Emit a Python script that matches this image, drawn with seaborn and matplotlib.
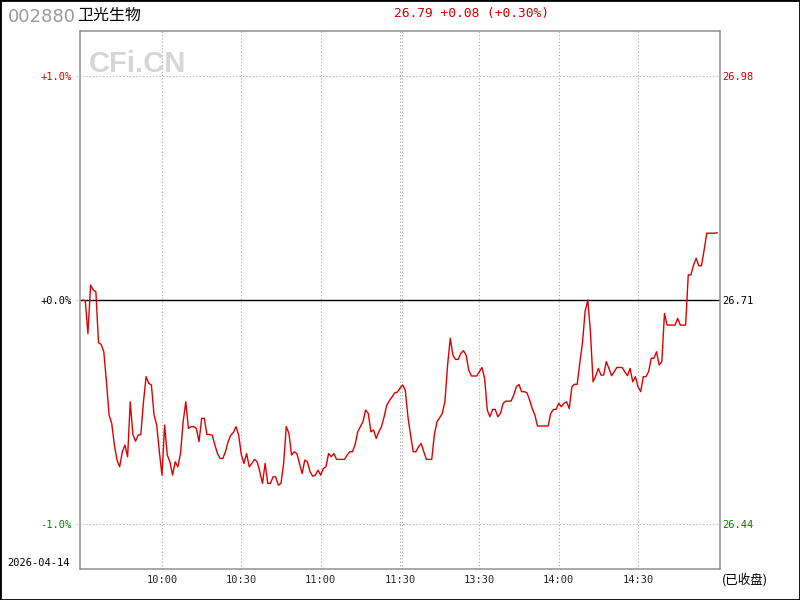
"""分时走势图 — 002880 卫光生物 (2026-04-14)."""

import matplotlib

matplotlib.use("Agg")

import matplotlib.pyplot as plt
import matplotlib.transforms as mtransforms
from matplotlib.patches import Rectangle
import numpy as np
import seaborn as sns

# ---- データ ----
stock_code = "002880"
stock_name = "卫光生物"
quote_text = "26.79 +0.08 (+0.30%)"
trade_date = "2026-04-14"
status_text = "(已收盘)"
prev_close = 26.71

# 分钟涨跌幅 (%), 9:30..11:30 + 13:01..15:00
pct_change = [
    0.000, -0.004, -0.150, 0.067, 0.045, 0.037, -0.190, -0.198, -0.231, -0.365,
    -0.513, -0.551, -0.647, -0.714, -0.744, -0.677, -0.647, -0.700, -0.454, -0.600,
    -0.630, -0.603, -0.600, -0.454, -0.342, -0.372, -0.379, -0.513, -0.558, -0.677,
    -0.781, -0.558, -0.692, -0.722, -0.781, -0.722, -0.744, -0.685, -0.543, -0.454,
    -0.573, -0.565, -0.565, -0.573, -0.632, -0.528, -0.528, -0.600, -0.600, -0.603,
    -0.647, -0.685, -0.707, -0.707, -0.677, -0.632, -0.603, -0.591, -0.565, -0.603,
    -0.690, -0.729, -0.685, -0.744, -0.729, -0.711, -0.722, -0.766, -0.818, -0.729,
    -0.818, -0.818, -0.789, -0.789, -0.826, -0.818, -0.729, -0.565, -0.595, -0.692,
    -0.677, -0.685, -0.729, -0.774, -0.714, -0.722, -0.766, -0.786, -0.781, -0.759,
    -0.781, -0.752, -0.744, -0.685, -0.699, -0.685, -0.711, -0.711, -0.711, -0.711,
    -0.692, -0.677, -0.677, -0.647, -0.588, -0.565, -0.543, -0.491, -0.506, -0.588,
    -0.580, -0.618, -0.588, -0.565, -0.521, -0.469, -0.449, -0.432, -0.414, -0.411,
    -0.394, -0.379, -0.402, -0.521, -0.603, -0.677, -0.677, -0.655, -0.640, -0.677,
    -0.711, -0.711, -0.711, -0.600, -0.543, -0.525, -0.506, -0.451, -0.290, -0.171,
    -0.246, -0.265, -0.265, -0.238, -0.226, -0.246, -0.313, -0.339, -0.339, -0.339,
    -0.320, -0.301, -0.350, -0.491, -0.521, -0.488, -0.488, -0.521, -0.506, -0.461,
    -0.451, -0.451, -0.451, -0.424, -0.387, -0.377, -0.409, -0.409, -0.414, -0.446,
    -0.484, -0.513, -0.562, -0.562, -0.562, -0.562, -0.562, -0.506, -0.488, -0.488,
    -0.461, -0.476, -0.461, -0.454, -0.484, -0.387, -0.376, -0.376, -0.280, -0.190,
    -0.050, 0.000, -0.141, -0.365, -0.339, -0.305, -0.335, -0.335, -0.275, -0.305,
    -0.338, -0.320, -0.301, -0.301, -0.301, -0.320, -0.338, -0.305, -0.365, -0.342,
    -0.387, -0.409, -0.342, -0.342, -0.320, -0.260, -0.260, -0.231, -0.290, -0.275,
    -0.060, -0.112, -0.112, -0.112, -0.112, -0.082, -0.112, -0.112, -0.112, 0.112,
    0.112, 0.156, 0.186, 0.153, 0.153, 0.223, 0.298, 0.298, 0.298, 0.298,
    0.300,
]

time_ticks = [30, 60, 90, 120, 150, 180, 210]
time_labels = ["10:00", "10:30", "11:00", "11:30", "13:30", "14:00", "14:30"]
pct_ticks = [1.0, 0.0, -1.0]
pct_labels = ["+1.0%", "+0.0%", "-1.0%"]
price_labels = ["26.98", "26.71", "26.44"]

# ---- スタイル ----
sns.set_style("white")
plt.rcParams["font.family"] = ["DejaVu Sans", "Noto Sans CJK SC"]
mono = "DejaVu Sans Mono"
cjk = ["Noto Sans CJK SC", "DejaVu Sans"]
RED = "#d00000"
GREEN = "#008000"
GRID = "#a8a8a8"
label_colors = [RED, "black", GREEN]

fig = plt.figure(figsize=(8, 6), dpi=100)
fig.patch.set_facecolor("white")
ax = fig.add_axes([80 / 800, 1 - 569 / 600, 640 / 800, 538 / 600])
ax.set_facecolor("white")

minute_idx = np.arange(len(pct_change))
ax.set_xlim(-1, 241)
ax.set_ylim(-1.2, 1.2)

# グリッド（点線）
for t in time_ticks + [120.7]:
    ax.axvline(t, color=GRID, linestyle=(0, (1, 2)), linewidth=0.8, zorder=1)
trans = mtransforms.blended_transform_factory(fig.transFigure, ax.transData)
for p in pct_ticks:
    ax.plot([76 / 800, 720 / 800], [p, p], transform=trans, color=GRID,
            linestyle=(0, (1, 2)), linewidth=0.8, clip_on=False, zorder=1)
ax.axhline(0, color="black", linewidth=1.0, zorder=2)

sns.lineplot(x=minute_idx, y=pct_change, ax=ax, color="#dd0000",
             linewidth=1.0, zorder=3)

for s in ax.spines.values():
    s.set_color("#999999")
    s.set_linewidth(1.2)

ax.set_xticks(time_ticks)
ax.set_xticklabels(time_labels, family=mono, fontsize=7.5)
ax.tick_params(axis="x", length=0, pad=4)

ax.set_yticks(pct_ticks)
ax.set_yticklabels(pct_labels, family=mono, fontsize=7.5)
ax.tick_params(axis="y", length=0, pad=6)
for lbl, c in zip(ax.get_yticklabels(), label_colors):
    lbl.set_color(c)

ax_r = ax.twinx()
ax_r.set_ylim(ax.get_ylim())
ax_r.set_yticks(pct_ticks)
ax_r.set_yticklabels(price_labels, family=mono, fontsize=7.5)
ax_r.tick_params(axis="y", length=0, pad=1.5)
for lbl, c in zip(ax_r.get_yticklabels(), label_colors):
    lbl.set_color(c)
for s in ax_r.spines.values():
    s.set_visible(False)

ax.set_xlabel("")
ax.set_ylabel("")

# ---- テキスト ----
fig.text(8 / 800, 1 - 17 / 600, stock_code, fontsize=13, color="#999999",
         ha="left", va="center", family="DejaVu Sans")
fig.text(77 / 800, 1 - 15 / 600, stock_name, fontsize=11.5, color="black",
         ha="left", va="center", family=cjk)
fig.text(394 / 800, 1 - 14 / 600, quote_text, fontsize=9.3, color=RED,
         ha="left", va="center", family=mono)
fig.text(89 / 800, 1 - 64 / 600, "CFi.CN", fontsize=21, color="#d6d6d6",
         ha="left", va="center", family="Liberation Sans", fontweight="bold")
fig.text(7 / 800, 1 - 563 / 600, trade_date, fontsize=7.5, color="black",
         ha="left", va="center", family=mono)
fig.text(722 / 800, 1 - 580 / 600, status_text, fontsize=9, color="black",
         ha="left", va="center", family=cjk)

# 外枠
fig.add_artist(Rectangle((0, 0), 1, 1, transform=fig.transFigure, fill=False,
                         edgecolor="black", linewidth=2.0))

fig.savefig("out.png", dpi=100)
plt.close(fig)
